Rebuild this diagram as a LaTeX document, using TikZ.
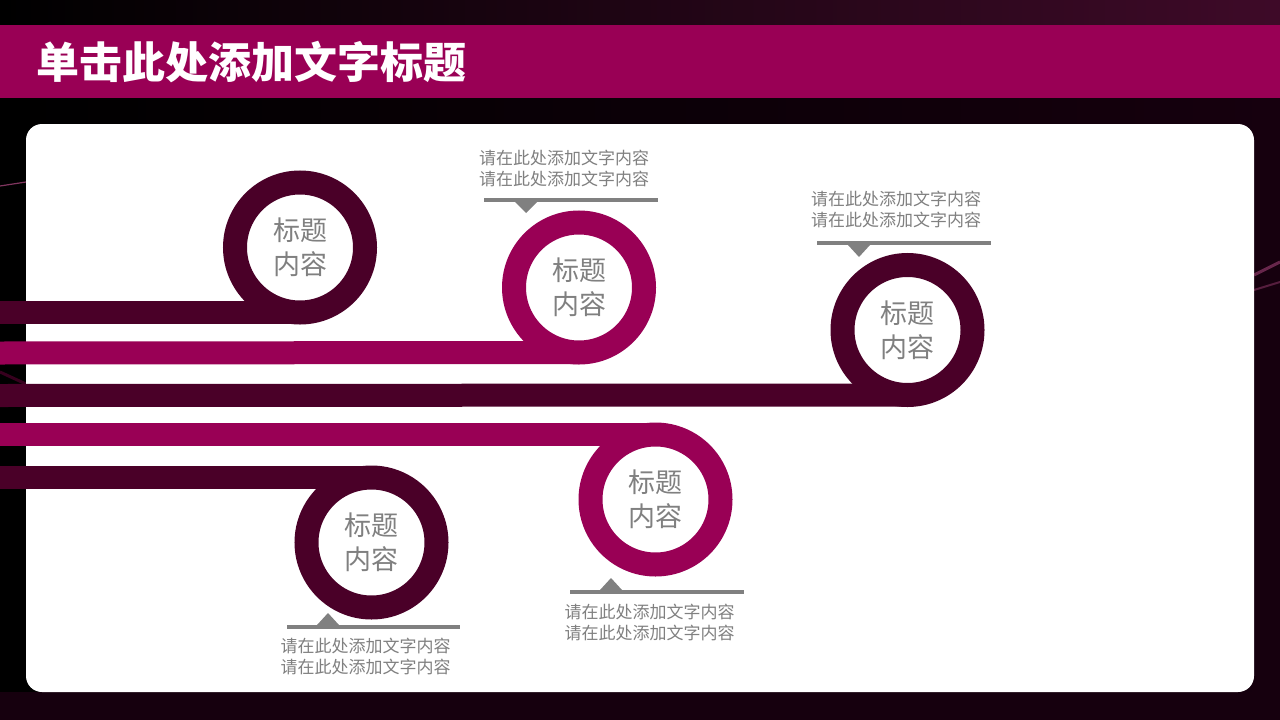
\documentclass[tikz,border=0pt]{standalone}
\usepackage{fontspec}
\newfontfamily\cjk{Noto Sans CJK SC}
\usepackage{tikz}
\usetikzlibrary{positioning}
\definecolor{plum}{RGB}{74,0,40}
\definecolor{rose}{RGB}{153,0,85}
\definecolor{ink}{RGB}{128,128,128}
\definecolor{night}{RGB}{22,0,14}
\definecolor{glow}{RGB}{110,0,64}

\tikzset{
  ring/.style={circle, draw=#1, line width=24pt, minimum size=130pt, inner sep=0pt,
    outer sep=0pt, text=ink, align=center, font=\cjk\fontsize{27}{34}\selectfont},
  band/.style={line width=23pt, #1},
  note/.style={text=ink, align=center, font=\cjk\fontsize{17}{21}\selectfont},
  notebar/.style={fill=ink},
}

\begin{document}
\begin{tikzpicture}[x=1pt,y=-1pt]
\useasboundingbox (0,0) rectangle (1280,720);
% background
\shade [left color=black, right color=night] (0,0) rectangle (1280,720);
\shade [left color=black, right color={rgb,255:red,62;green,10;blue,40}] (0,0) rectangle (1280,25);
\shade [left color=night, middle color=glow, right color=night] (0,692) rectangle (1280,720);
\draw [line width=1.2pt, rose!70!white, opacity=0.7] (0,186) -- (26,182);
\draw [line width=3pt, rose!60!black, opacity=0.6] (0,372) -- (26,384);
\draw [line width=3pt, rose!70!white, opacity=0.5] (1254,275) -- (1280,262);
\draw [line width=2pt, rose!70!white, opacity=0.4] (1254,290) -- (1280,282);
% title bar
\fill [rose] (0,25) rectangle (1280,98);
\node [anchor=west, text=white, inner sep=0pt, font=\cjk\fontsize{43}{43}\selectfont\bfseries] (title) at (36,62) {单击此处添加文字标题};
% panel
\fill [white, rounded corners=16pt] (26,124) rectangle (1254,692);

% band starts
\coordinate (s1) at (0,312.5);
\coordinate (s2) at (0,353);
\coordinate (s3) at (0,395.5);
\coordinate (s4) at (0,434.5);
\coordinate (s5) at (0,477.5);

% rings
\node [ring=plum] (t1) at (300,247.5) {标题\\内容};
\node [ring=rose] (t2) at (579,287.5) {标题\\内容};
\node [ring=plum] (t3) at (907.5,330) {标题\\内容};
\node [ring=rose] (t4) at (655.5,499.5) {标题\\内容};
\node [ring=plum] (t5) at (371.5,542.5) {标题\\内容};

% bands
\draw [band=plum] (s1) -- (t1.south);
\draw [band=rose] (s2) -- (t2.south);
\draw [band=plum] (s3) -- (t3.south);
\draw [band=rose] (s4) -- (t4.north);
\draw [band=plum] (s5) -- (t5.north);

% notes
\node [note] (n2) at (564,168) {请在此处添加文字内容\\请在此处添加文字内容};
\fill [notebar] (484,198) rectangle (658,202);
\fill [notebar] (515,202) -- (537,202) -- (526,213) -- cycle;

\node [note] (n3) at (896,209.5) {请在此处添加文字内容\\请在此处添加文字内容};
\fill [notebar] (817,241) rectangle (991,245);
\fill [notebar] (848,245) -- (870,245) -- (859,257) -- cycle;

\node [note] (n4) at (649.5,622.5) {请在此处添加文字内容\\请在此处添加文字内容};
\fill [notebar] (570,590) rectangle (744,594);
\fill [notebar] (600,590) -- (622,590) -- (611,578) -- cycle;

\node [note] (n5) at (365.5,656) {请在此处添加文字内容\\请在此处添加文字内容};
\fill [notebar] (287,625) rectangle (460,629);
\fill [notebar] (317,625) -- (339,625) -- (328,613) -- cycle;
\end{tikzpicture}
\end{document}
